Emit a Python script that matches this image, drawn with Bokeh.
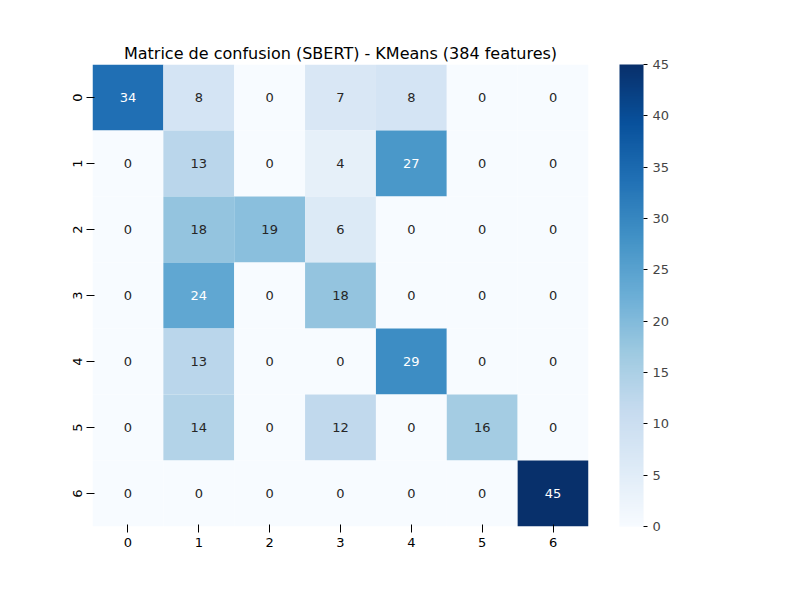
from bokeh.plotting import figure
from bokeh.models import ColumnDataSource, LinearColorMapper, ColorBar, FixedTicker
from bokeh.palettes import Blues256
from bokeh.transform import transform
from bokeh.embed import file_html
from bokeh.resources import INLINE
from bokeh.core.properties import value

labels = ["0", "1", "2", "3", "4", "5", "6"]
matrix = [
    [34, 8, 0, 7, 8, 0, 0],
    [0, 13, 0, 4, 27, 0, 0],
    [0, 18, 19, 6, 0, 0, 0],
    [0, 24, 0, 18, 0, 0, 0],
    [0, 13, 0, 0, 29, 0, 0],
    [0, 14, 0, 12, 0, 16, 0],
    [0, 0, 0, 0, 0, 0, 45],
]
title = "Matrice de confusion (SBERT) - KMeans (384 features)"

xs, ys, vs, ts, cs = [], [], [], [], []
for i, row in enumerate(matrix):
    for j, v in enumerate(row):
        xs.append(labels[j]); ys.append(labels[i]); vs.append(v); ts.append(str(v))
        cs.append("white" if v > 21 else "#262626")
src = ColumnDataSource(dict(x=xs, y=ys, v=vs, t=ts, c=cs))

mapper = LinearColorMapper(palette=list(Blues256[::-1]), low=0, high=45)
font = "DejaVu Sans"
p = figure(frame_width=496, frame_height=462, x_range=labels, y_range=labels[::-1],
           output_backend="svg", toolbar_location=None,
           min_border_left=92, min_border_top=64, min_border_bottom=58, min_border_right=10)
p.title.text = title
p.title.align = "center"
p.title.text_font = font
p.title.text_font_size = "16px"
p.title.text_font_style = "normal"
p.title.text_color = "#000000"
p.title.standoff = 4
p.rect("x", "y", 1, 1, source=src, fill_color=transform("v", mapper), line_color=None)
p.text("x", "y", text="t", source=src, text_color="c", text_align="center",
       text_baseline="middle", text_font=value(font), text_font_size="13px")
p.grid.visible = False
p.outline_line_color = None
for ax in (p.xaxis[0], p.yaxis[0]):
    ax.axis_line_color = None
    ax.major_label_text_font = font
    ax.major_label_text_font_size = "13px"
    ax.major_label_text_color = "#000000"
p.yaxis.major_label_orientation = "vertical"

cb = ColorBar(color_mapper=mapper, width=24, height=462, padding=0, margin=0,
              ticker=FixedTicker(ticks=[0, 5, 10, 15, 20, 25, 30, 35, 40, 45]),
              major_label_text_font=font, major_label_text_font_size="13px",
              bar_line_color=None, major_tick_line_color="black", major_tick_out=4, major_tick_in=0,
              location=(31, 0))
p.add_layout(cb, "right")

open("out.html", "w").write(file_html(p, INLINE))
